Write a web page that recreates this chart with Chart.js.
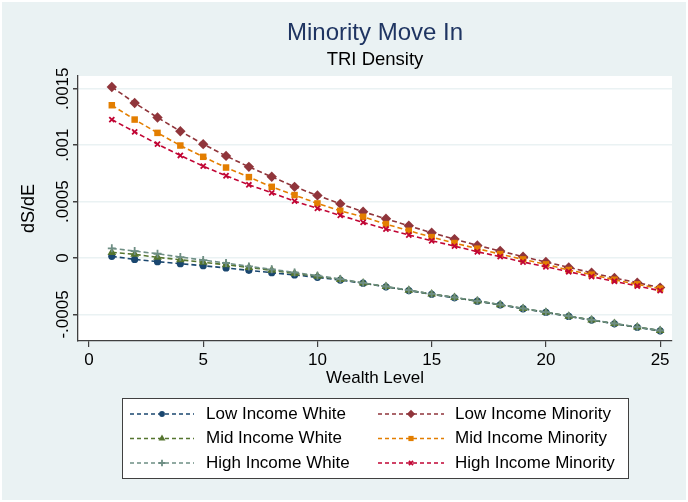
<!DOCTYPE html>
<html>
<head>
<meta charset="utf-8">
<script src="https://cdn.jsdelivr.net/npm/chart.js@4.4.1/dist/chart.umd.min.js"></script>
<style>
    html, body { margin: 0; padding: 0; background: #fff; }
    #wrap { width: 688px; height: 502px; }
</style>
</head>
<body>
<div id="wrap"><canvas id="chart"></canvas></div>
<script>
// wealth levels 1..25
var wealth = [1, 2, 3, 4, 5, 6, 7, 8, 9, 10, 11, 12, 13, 14, 15, 16, 17, 18, 19, 20, 21, 22, 23, 24, 25];

var lowWhite = [0.000015, -0.000012, -0.000032, -0.00005, -0.000068, -0.000088, -0.000109, -0.00013, -0.00015, -0.000171,
    -0.000195, -0.000223, -0.000255, -0.000288, -0.000321, -0.000352, -0.000382, -0.000415, -0.000449, -0.000482,
    -0.000517, -0.00055, -0.000583, -0.000614, -0.000645];
var midWhite = [0.00005, 0.000033, 0.000006, -0.000015, -0.000038, -0.000059, -0.000083, -0.000109, -0.000136, -0.000162,
    -0.000189, -0.000221, -0.000253, -0.000286, -0.000319, -0.00035, -0.00038, -0.000413, -0.000447, -0.00048,
    -0.000515, -0.000548, -0.000581, -0.000612, -0.000643];
var highWhite = [0.000086, 0.000062, 0.000038, 0.000009, -0.000018, -0.000044, -0.000074, -0.0001, -0.000127, -0.000156,
    -0.000186, -0.00022, -0.000252, -0.000285, -0.000318, -0.000349, -0.000379, -0.000412, -0.000446, -0.000479,
    -0.000514, -0.000547, -0.00058, -0.000611, -0.000642];

var lowMinority = [0.001516, 0.001374, 0.001245, 0.001124, 0.001009, 0.000905, 0.000808, 0.00072, 0.000631, 0.000555,
    0.00048, 0.00041, 0.000348, 0.000286, 0.000224, 0.000168, 0.000112, 0.000062, 0.000012, -0.000035,
    -0.000083, -0.00013, -0.000177, -0.000218, -0.000262];
var midMinority = [0.001354, 0.001227, 0.001109, 0.000997, 0.000897, 0.000802, 0.000717, 0.000631, 0.000558, 0.000484,
    0.000419, 0.000366, 0.000301, 0.000242, 0.000186, 0.000133, 0.000083, 0.000035, -0.000012, -0.000056,
    -0.000106, -0.000147, -0.000192, -0.000233, -0.000271];
var highMinority = [0.001227, 0.001118, 0.001009, 0.000909, 0.000814, 0.000729, 0.000649, 0.000578, 0.000504, 0.00044,
    0.000378, 0.000316, 0.000257, 0.000204, 0.000153, 0.000106, 0.000056, 0.000012, -0.000035, -0.000077,
    -0.000121, -0.000165, -0.000206, -0.000248, -0.000289];

var seriesNames = ["Low Income White", "Low Income Minority", "Mid Income White",
    "Mid Income Minority", "High Income White", "High Income Minority"];

var xTicks = [0, 5, 10, 15, 20, 25];
var yTicks = [-0.0005, 0, 0.0005, 0.001, 0.0015];

function pts(values) {
    return values.map(function(v, i) { return { x: wealth[i], y: v }; });
}

function series(label, values, color, style, radius, order) {
    return {
        label: label,
        data: pts(values),
        borderColor: color,
        backgroundColor: color,
        borderWidth: 1.6,
        borderDash: [5, 3],
        pointStyle: style,
        pointRadius: radius,
        pointHoverRadius: radius,
        pointBorderWidth: (style === 'cross' || style === 'crossRot') ? 1.8 : 0,
        tension: 0,
        order: order
    };
}

var bgPlugin = {
    id: 'stataBg',
    beforeDraw: function(chart) {
        var ctx = chart.ctx, a = chart.chartArea;
        ctx.save();
        ctx.fillStyle = '#ffffff';
        ctx.fillRect(0, 0, chart.width, chart.height);
        ctx.fillStyle = '#eaf2f3';
        ctx.fillRect(2, 2, chart.width - 4, chart.height - 4);
        ctx.fillStyle = '#ffffff';
        ctx.fillRect(a.left, a.top, a.right - a.left, a.bottom - a.top);
        ctx.restore();
    }
};

// two column legend box, line + marker like stata
var legendPlugin = {
    id: 'stataLegend',
    afterDraw: function(chart) {
        var ctx = chart.ctx;
        var cols = [{ x1: 130, x2: 194, tx: 206 }, { x1: 378, x2: 444, tx: 455 }];
        var rows = [414, 438.5, 463];
        ctx.save();
        ctx.fillStyle = '#ffffff';
        ctx.fillRect(122, 398, 506, 80);
        ctx.strokeStyle = '#404040';
        ctx.lineWidth = 1;
        ctx.strokeRect(122.5, 398.5, 506, 80);
        chart.data.datasets.forEach(function(ds, i) {
            var c = cols[i % 2], y = rows[Math.floor(i / 2)];
            ctx.strokeStyle = ds.borderColor;
            ctx.lineWidth = 1.4;
            ctx.setLineDash([4, 3]);
            ctx.beginPath();
            ctx.moveTo(c.x1, y);
            ctx.lineTo(c.x2, y);
            ctx.stroke();
            ctx.setLineDash([]);
            ctx.fillStyle = ds.borderColor;
            ctx.lineWidth = ds.pointBorderWidth || 1;
            Chart.helpers.drawPoint(ctx, {
                pointStyle: ds.pointStyle,
                radius: ds.pointRadius * 0.8,
                borderWidth: ds.pointBorderWidth,
                rotation: 0
            }, (c.x1 + c.x2) / 2, y);
            ctx.fillStyle = '#000';
            ctx.font = '17px "Liberation Sans", Arial, sans-serif';
            ctx.textBaseline = 'middle';
            ctx.textAlign = 'left';
            ctx.fillText(seriesNames[i], c.tx, y);
        });
        ctx.restore();
    }
};

function fmt(v) {
    var s = parseFloat(v.toFixed(6)).toString();
    return s.replace('0.', '.');
}

Chart.defaults.font.family = '"Liberation Sans", Arial, sans-serif';
Chart.defaults.color = '#000';

var ctx = document.getElementById('chart').getContext('2d');
window.myLine = new Chart(ctx, {
    type: 'line',
    data: {
        datasets: [
            series(seriesNames[0], lowWhite, '#1a476f', 'circle', 3.6, 6),
            series(seriesNames[1], lowMinority, '#90353b', 'rectRot', 5.2, 5),
            series(seriesNames[2], midWhite, '#55752f', 'triangle', 5, 4),
            series(seriesNames[3], midMinority, '#e37e00', 'rect', 4.6, 3),
            series(seriesNames[4], highWhite, '#6e8e84', 'cross', 4, 2),
            series(seriesNames[5], highMinority, '#c10534', 'crossRot', 3.6, 1)
        ]
    },
    options: {
        responsive: true,
        maintainAspectRatio: false,
        animation: false,
        layout: { padding: { left: 0, right: 16, top: 0, bottom: 111 } },
        plugins: {
            legend: { display: false },
            tooltip: { enabled: false },
            title: {
                display: true,
                text: 'Minority Move In',
                fullSize: false,
                color: '#1f3562',
                font: { size: 24, weight: 'normal' },
                padding: { top: 18.6, bottom: 1.5 }
            },
            subtitle: {
                display: true,
                text: 'TRI Density',
                fullSize: false,
                color: '#000',
                font: { size: 18.5, weight: 'normal' },
                padding: { top: 0, bottom: 4.9 }
            }
        },
        scales: {
            x: {
                type: 'linear',
                position: 'bottom',
                min: -0.48,
                max: 25.52,
                afterBuildTicks: function(scale) {
                    scale.ticks = xTicks.map(function(v) { return { value: v }; });
                },
                ticks: { font: { size: 17 }, color: '#000', padding: 3, maxRotation: 0 },
                grid: { drawOnChartArea: false, tickLength: 6, tickColor: '#404040', lineWidth: 1.2 },
                border: { color: '#404040', width: 1.3 },
                title: { display: true, text: 'Wealth Level', font: { size: 17 }, color: '#000', padding: { top: 0, bottom: 2 } },
                afterFit: function(scale) { scale.height = 50; }
            },
            y: {
                type: 'linear',
                min: -0.000735,
                max: 0.001613,
                afterBuildTicks: function(scale) {
                    scale.ticks = yTicks.map(function(v) { return { value: v }; });
                },
                ticks: {
                    font: { size: 17 },
                    color: '#000',
                    minRotation: 90,
                    maxRotation: 90,
                    crossAlign: 'center',
                    padding: -14,
                    callback: function(v) { return fmt(v); }
                },
                grid: { color: '#eaf2f3', lineWidth: 1.5, tickLength: 5, tickColor: '#404040' },
                border: { color: '#404040', width: 1.3 },
                title: { display: true, text: 'dS/dE', font: { size: 18 }, color: '#000', padding: { top: 18, bottom: 0 } },
                afterFit: function(scale) { scale.width = 78; }
            }
        }
    },
    plugins: [bgPlugin, legendPlugin]
});
</script>
</body>
</html>
